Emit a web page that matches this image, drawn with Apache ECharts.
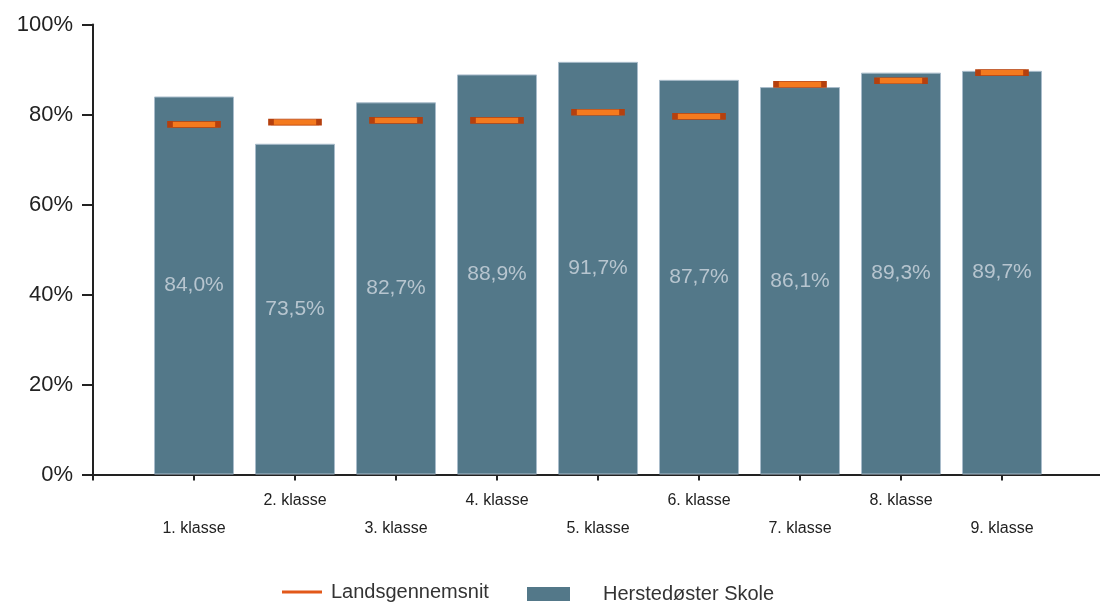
<!DOCTYPE html>
<html>
<head>
<meta charset="utf-8">
<script src="https://cdn.jsdelivr.net/npm/echarts@6/dist/echarts.min.js"></script>
<style>
html,body{margin:0;padding:0;background:#fff;}
#chart{width:1100px;height:606px;}
</style>
</head>
<body>
<div id="chart"></div>
<script>
const categories = ['1. klasse','2. klasse','3. klasse','4. klasse','5. klasse','6. klasse','7. klasse','8. klasse','9. klasse'];
const skoleValues = [84.0, 73.5, 82.7, 88.9, 91.7, 87.7, 86.1, 89.3, 89.7];
const landsValues = [77.8, 78.3, 78.7, 78.7, 80.5, 79.6, 86.7, 87.5, 89.3];
const yTicks = [0, 20, 40, 60, 80, 100];

const axisCats = [''].concat(categories, ['']);
const barData = ['-'].concat(skoleValues, ['-']);
const lineData = ['-'].concat(landsValues, ['-']);
const font = '"Liberation Sans", Arial, sans-serif';

const chart = echarts.init(document.getElementById('chart'));
chart.setOption({
  animation: false,
  textStyle: { fontFamily: font },
  grid: { left: 93, top: 24.5, width: 1010, height: 450, outerBoundsMode: 'none', containLabel: false },
  legend: [{
    left: 282, top: 582, padding: 0,
    itemWidth: 40, itemHeight: 3,
    data: [{ name: 'Landsgennemsnit', icon: 'rect', itemStyle: { color: '#e2581a', borderWidth: 0 } }],
    textStyle: { fontSize: 20, color: '#333', fontFamily: font, padding: [0, 0, 0, 4] }
  }, {
    left: 527, top: 584, padding: 0,
    itemWidth: 43, itemHeight: 14,
    data: [{ name: 'Herstedøster Skole', icon: 'rect', itemStyle: { color: '#537889', borderWidth: 0 } }],
    textStyle: { fontSize: 20, color: '#333', fontFamily: font, padding: [0, 0, 0, 28] }
  }],
  xAxis: {
    type: 'category',
    data: axisCats,
    boundaryGap: false,
    axisLine: { lineStyle: { color: '#222', width: 2 } },
    axisTick: { show: true, length: 6, lineStyle: { color: '#222', width: 2 } },
    axisLabel: {
      interval: 0,
      margin: 18,
      formatter: function (v, i) { return (i % 2 === 1) ? '{b|' + v + '}' : '{a|' + v + '}'; },
      rich: {
        a: { fontSize: 16, color: '#222', fontFamily: font },
        b: { fontSize: 16, color: '#222', fontFamily: font, padding: [28, 0, 0, 0] }
      }
    },
    splitLine: { show: false }
  },
  yAxis: {
    type: 'value',
    min: 0, max: 100, interval: 20,
    axisLine: { show: true, lineStyle: { color: '#222', width: 2 } },
    axisTick: { show: true, length: 11, lineStyle: { color: '#222', width: 2 } },
    axisLabel: { fontSize: 22, color: '#222', margin: 20, formatter: '{value}%' },
    splitLine: { show: false }
  },
  series: [{
    name: 'Herstedøster Skole',
    type: 'bar',
    data: barData,
    barWidth: 80,
    itemStyle: { color: '#537889', borderColor: '#a9bccb', borderWidth: 1 },
    label: {
      show: true, position: 'inside', fontSize: 21, color: '#b7c5cf',
      formatter: function (p) { return p.value.toFixed(1).replace('.', ',') + '%'; }
    },
    z: 2
  }, {
    name: 'Landsgennemsnit',
    type: 'scatter',
    data: lineData,
    symbol: 'rect',
    symbolSize: [48, 6],
    itemStyle: { color: '#f47a1e', borderColor: '#b5400e', borderWidth: 2, opacity: 1 },
    z: 3
  }]
});
</script>
</body>
</html>
